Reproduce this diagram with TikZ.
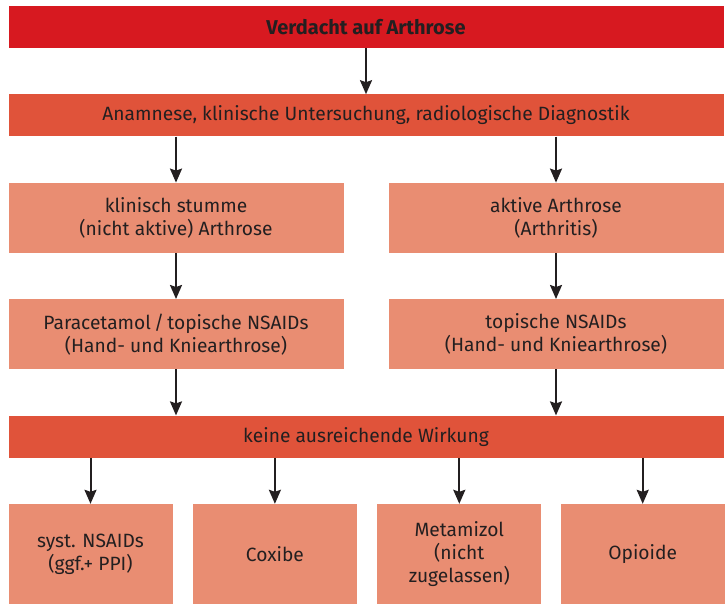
\documentclass[tikz,border=0pt]{standalone}
\usepackage{fontspec}
\setmainfont{Fira Sans}
\usetikzlibrary{arrows.meta, positioning}
\definecolor{topred}{HTML}{D71920}
\definecolor{barred}{HTML}{E0533A}
\definecolor{boxred}{HTML}{E98D72}
\definecolor{ink}{HTML}{231F20}

\begin{document}
\begin{tikzpicture}[
    x=1pt, y=-1pt,
    node distance=46pt,
    bar/.style={fill=barred, minimum width=715pt, minimum height=42pt, inner sep=0pt, text=ink, font=\fontsize{19.2}{23}\selectfont},
    box/.style={fill=boxred, minimum width=335pt, minimum height=70pt, inner sep=0pt, align=center, text=ink, font=\fontsize{19.2}{23}\selectfont},
    small/.style={box, minimum width=164pt, minimum height=100pt},
    arrow/.style={-{Stealth[length=14pt, width=12pt, inset=2pt]}, line width=2pt, draw=ink}
]
\useasboundingbox (0,0) rectangle (728,603);

\node[bar, fill=topred, font=\fontsize{20}{23}\selectfont\bfseries] (verdacht) at (366,27) {Verdacht auf Arthrose};
\node[bar, below=of verdacht] (anamnese) {Anamnese, klinische Untersuchung, radiologische Diagnostik};

\node[box, below=of anamnese.south west, anchor=north west] (stumm) {klinisch stumme\\(nicht aktive) Arthrose};
\node[box, below=of anamnese.south east, anchor=north east] (aktiv) {aktive Arthrose\\(Arthritis)};
\node[box, below=of stumm] (para) {Paracetamol\,/\,topische NSAIDs\\(Hand- und Kniearthrose)};
\node[box, below=of aktiv] (topisch) {topische NSAIDs\\(Hand- und Kniearthrose)};

\node[bar, below=of para.south west, anchor=north west] (keine) {keine ausreichende Wirkung};

\node[small, below=of keine.south west, anchor=north west] (nsaid) {syst. NSAIDs\\(ggf.+ PPI)};
\node[small, right=20pt of nsaid] (coxibe) {Coxibe};
\node[small, right=20pt of coxibe] (metamizol) {Metamizol\\(nicht\\zugelassen)};
\node[small, right=19pt of metamizol] (opioide) {Opioide};

\draw[arrow] (verdacht) -- (anamnese);
\draw[arrow] (stumm |- anamnese.south) -- (stumm);
\draw[arrow] (aktiv |- anamnese.south) -- (aktiv);
\draw[arrow] (stumm) -- (para);
\draw[arrow] (aktiv) -- (topisch);
\draw[arrow] (para) -- (para |- keine.north);
\draw[arrow] (topisch) -- (topisch |- keine.north);
\foreach \n in {nsaid, coxibe, metamizol, opioide}
    \draw[arrow] (\n |- keine.south) -- (\n);
\end{tikzpicture}
\end{document}
